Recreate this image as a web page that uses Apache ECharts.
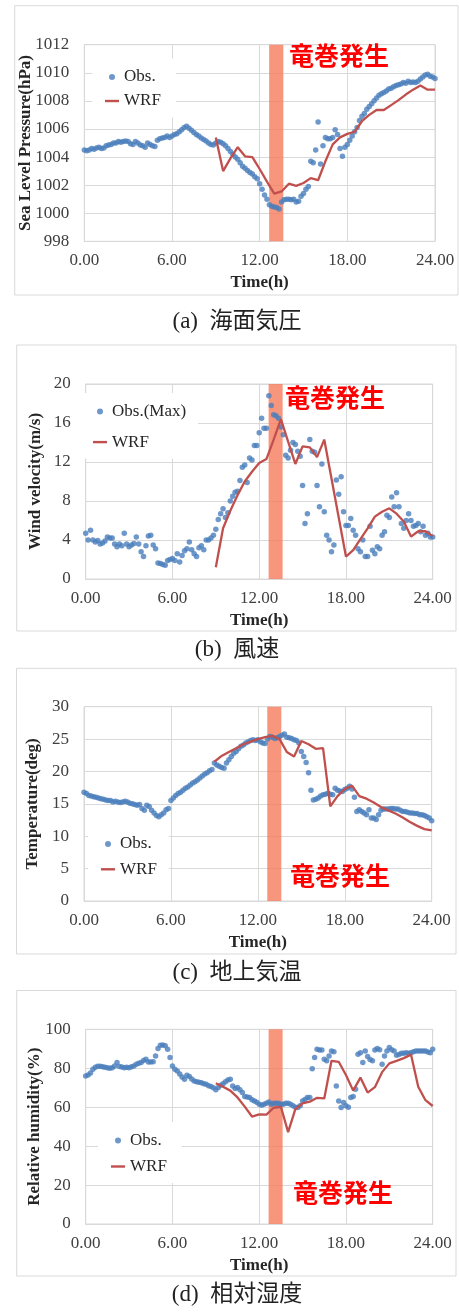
<!DOCTYPE html>
<html>
<head>
<meta charset="utf-8">
<script src="https://cdn.jsdelivr.net/npm/echarts@6/dist/echarts.min.js"></script>
<style>
  html, body { margin: 0; padding: 0; background: #ffffff; }
  #chart { width: 459px; height: 1313px; }
</style>
</head>
<body>
<div id="chart"></div>
<script>
// Observations are logged every 10 minutes from 0:00 to 24:00 (145 samples).
const OBS_STEP_MIN = 10;

// (a) sea level pressure, hPa
const pressureObs = [
  1004.5, 1004.45, 1004.5, 1004.6, 1004.55, 1004.65, 1004.7, 1004.6, 1004.65, 1004.8, 1004.85, 1004.9,
  1005.0, 1005.0, 1005.1, 1005.05, 1005.1, 1005.15, 1005.1, 1004.95, 1004.9, 1005.1, 1005.0, 1004.85,
  1004.8, 1004.7, 1005.0, 1004.9, 1004.8, 1004.75, 1005.2, 1005.3, 1005.35, 1005.4, 1005.5, 1005.4,
  1005.5, 1005.6, 1005.65, 1005.8, 1005.95, 1006.1, 1006.2, 1006.05, 1005.9, 1005.75, 1005.6, 1005.5,
  1005.35, 1005.25, 1005.15, 1005.0, 1004.9, 1004.85, 1005.0, 1005.1, 1005.05, 1004.95, 1004.8, 1004.6,
  1004.4, 1004.2, 1004.0, 1003.85, 1003.6, 1003.35, 1003.2, 1003.05, 1002.9, 1002.8, 1002.6, 1002.45,
  1002.1, 1001.7, 1001.3, 1001.0, 1000.6, 1000.5, 1000.45, 1000.4, 1000.3, 1000.8, 1000.95, 1001.0,
  1001.0, 1000.95, 1001.0, 1000.8, 1000.85, 1001.2, 1001.4, 1001.7, 1001.9, 1003.7, 1003.6, 1004.5,
  1006.5, 1003.5, 1004.8, 1005.4, 1005.3, 1005.3, 1005.4, 1005.95, 1005.6, 1004.6, 1004.05, 1004.7,
  1004.9, 1005.2, 1005.5, 1005.8, 1006.1, 1006.6, 1006.9, 1007.1, 1007.4, 1007.6, 1007.8, 1008.0,
  1008.2, 1008.4, 1008.5, 1008.6, 1008.7, 1008.85, 1008.9, 1009.0, 1009.1, 1009.15, 1009.2, 1009.3,
  1009.25, 1009.4, 1009.3, 1009.35, 1009.3, 1009.4, 1009.55, 1009.7, 1009.85, 1009.9, 1009.75, 1009.7,
  1009.6
];

// (b) maximum wind speed, m/s
const windObs = [
  4.7, 4.0, 5.0, 4.0, 3.8, 3.95, 3.6, 3.7, 3.9, 4.3, 4.2, 4.2,
  3.6, 3.3, 3.6, 3.4, 4.7, 3.6, 3.3, 3.5, 3.65, 4.3, 3.6, 2.8,
  2.3, 3.4, 4.4, 4.5, 3.5, 3.1, 1.65, 1.6, 1.5, 1.4, 1.9, 2.0,
  2.1, 1.9, 2.6, 1.75, 2.4, 2.9, 3.1, 3.8, 3.0, 2.6, 2.3, 3.2,
  3.4, 3.0, 4.0, 4.0, 4.2, 4.5, 5.1, 6.1, 6.7, 7.2, 6.3, 6.8,
  8.0, 8.5, 8.9, 9.0, 10.1, 11.45, 11.7, 9.9, 12.4, 12.2, 13.7, 13.7,
  15.0, 16.5, 15.45, 15.45, 18.8, 17.8, 16.85, 16.75, 16.5, 15.6, 14.8, 12.7,
  12.4, 13.2, 14.0, 13.8, 13.1, 12.6, 9.6, 5.7, 6.7, 14.3, 13.1, 13.0,
  9.6, 7.4, 11.8, 6.9, 4.5, 4.0, 2.8, 3.5, 10.15, 8.7, 10.5, 6.9,
  5.5, 5.5, 6.2, 5.0, 4.5, 3.1, 2.8, 4.0, 2.3, 2.3, 5.4, 2.95,
  2.6, 3.3, 3.1, 4.5, 4.85, 6.55, 6.3, 8.4, 7.4, 8.85, 7.4, 5.7,
  5.2, 6.0, 6.7, 6.0, 5.4, 5.5, 5.7, 4.85, 5.4, 4.5, 4.7, 4.3,
  4.3
];

// (c) surface air temperature, deg C
const tempObs = [
  16.8, 16.6, 16.3, 16.2, 16.1, 16.0, 15.9, 15.8, 15.7, 15.6, 15.5, 15.5,
  15.3, 15.4, 15.3, 15.2, 15.3, 15.4, 15.3, 15.1, 15.0, 14.9, 14.8, 14.9,
  14.3, 14.0, 14.8, 14.6, 14.0, 13.6, 13.2, 13.0, 13.3, 13.6, 14.1, 14.3,
  15.5, 15.9, 16.3, 16.6, 16.8, 17.1, 17.4, 17.6, 17.9, 18.2, 18.4, 18.7,
  19.0, 19.3, 19.6, 19.8, 20.1, 20.3, 21.3, 21.0, 20.8, 20.6, 20.5, 21.3,
  21.8, 22.3, 22.8, 23.1, 23.5, 23.9, 24.1, 24.4, 24.6, 24.8, 24.9, 24.8,
  24.9, 24.6, 24.4, 24.3, 25.0, 25.4, 25.3, 25.1, 25.2, 25.4, 25.6, 25.8,
  25.3, 25.2, 25.1, 24.9, 24.8, 24.4, 23.1, 22.3, 21.4, 19.8, 17.1, 15.6,
  15.7, 15.9, 16.2, 16.4, 16.5, 16.65, 16.5, 16.4, 17.4, 17.1, 17.0, 16.9,
  17.2, 17.4, 17.7, 17.3, 16.0, 13.8, 14.1, 13.8, 13.6, 13.3, 14.1, 12.8,
  12.8, 12.6, 13.3, 14.0, 14.2, 14.2, 14.2, 14.3, 14.3, 14.2, 14.2, 14.0,
  13.8, 13.8, 13.7, 13.6, 13.6, 13.5, 13.5, 13.3, 13.3, 13.2, 13.0, 12.8,
  12.4
];

// (d) relative humidity, %
const humidObs = [
  76.0, 76.5, 77.5, 79.5, 80.5, 81.0, 81.0, 80.8, 80.5, 80.3, 80.0, 80.3,
  81.2, 82.9, 80.9, 80.6, 80.3, 80.5, 80.3, 80.8, 81.2, 82.0, 82.5, 82.9,
  84.0, 84.6, 83.2, 83.2, 83.3, 86.3, 90.1, 91.8, 92.0, 91.5, 89.7, 85.5,
  81.2, 79.5, 78.6, 77.0, 75.5, 74.4, 76.4, 75.7, 74.5, 73.5, 73.0, 72.8,
  72.6, 72.0, 71.8, 71.0, 70.6, 70.0, 68.9, 70.1, 71.3, 72.0, 73.0, 74.0,
  74.4, 70.9, 69.6, 70.1, 69.0, 67.5, 65.5, 65.2, 65.0, 63.8, 63.2, 62.5,
  61.5, 61.0, 61.5, 62.0, 62.7, 61.5, 62.0, 62.0, 62.0, 61.5, 61.5, 62.0,
  62.0, 61.5, 60.7, 60.0, 59.8, 60.7, 63.2, 64.0, 65.0, 65.0, 79.8, 85.5,
  89.7, 89.4, 89.4, 84.6, 83.8, 86.3, 88.9, 88.5, 70.9, 63.2, 59.8, 62.4,
  60.7, 60.0, 65.0, 65.5, 69.2, 87.2, 88.0, 82.9, 88.9, 86.0, 84.5, 83.8,
  89.4, 90.1, 89.5, 82.0, 86.3, 88.9, 90.6, 89.5, 88.9, 86.7, 87.0, 87.7,
  87.7, 88.0, 87.7, 88.0, 88.5, 88.9, 88.9, 88.9, 88.9, 88.9, 88.4, 88.0,
  89.7
];

// WRF model output, every 30 minutes from 9:00
const wrfHours = [
  9.0, 9.5, 10.0, 10.5, 11.0, 11.5, 12.0, 12.5, 13.0, 13.5, 14.0, 14.5, 15.0, 15.5, 16.0, 16.5,
  17.0, 17.5, 18.0, 18.5, 19.0, 19.5, 20.0, 20.5, 21.0, 21.5, 22.0, 22.5, 23.0, 23.5, 24.0
];
const pressureWrf = [
  1005.4, 1003.0, 1003.9, 1004.7, 1004.05, 1004.0, 1003.15, 1002.25, 1001.4, 1001.55, 1002.1, 1001.95,
  1002.15, 1002.5, 1002.35, 1003.7, 1004.9, 1005.4, 1005.65, 1005.8, 1006.55, 1007.0, 1007.35, 1007.35,
  1007.7, 1008.05, 1008.45, 1008.8, 1009.1, 1008.8, 1008.8
];
const windWrf = [
  1.2, 5.2, 7.0, 8.6, 10.0, 11.0, 11.9, 12.3, 14.3, 16.4, 14.1, 11.8, 13.6, 13.5, 12.5, 14.3,
  10.3, 6.3, 2.3, 2.95, 4.1, 5.2, 6.4, 6.9, 7.25, 6.7, 5.9, 4.35, 4.9, 4.9, 4.4
];
const tempWrf = [
  21.5, 22.4, 23.0, 23.6, 24.2, 24.6, 25.0, 25.3, 25.5, 25.0, 23.0, 22.3, 24.7, 24.2, 23.5, 23.6,
  14.6, 16.2, 17.3, 17.8, 16.2, 15.8, 15.2, 14.5, 14.0, 13.5, 12.9, 12.2, 11.6, 11.1, 10.9
];
const humidWrf = [
  72.3, 70.5, 68.5, 65.0, 60.3, 55.2, 56.3, 56.2, 59.7, 60.2, 47.2, 59.0, 62.0, 62.8, 64.8, 64.5,
  83.8, 83.3, 76.5, 68.5, 75.2, 67.5, 70.3, 78.0, 82.5, 83.8, 85.2, 87.0, 70.5, 63.6, 60.6
];

// Tornado occurrence window (hours)
const tornadoBand = [12.65, 13.62];
const tornadoLabel = '竜巻発生';

// Axis ticks
const timeTicks = { min: 0, max: 24, interval: 6 };
const pressureTicks = { min: 998, max: 1012, interval: 2 };
const windTicks = { min: 0, max: 20, interval: 4 };
const tempTicks = { min: 0, max: 30, interval: 5 };
const humidTicks = { min: 0, max: 100, interval: 20 };

const timeTitle = 'Time(h)';
const panelTitles = ['Sea Level Pressure(hPa)', 'Wind velocity(m/s)', 'Temperature(deg)', 'Relative humidity(%)'];
const obsNames = ['Obs.', 'Obs.(Max)', 'Obs.', 'Obs.'];
const wrfName = 'WRF';
const captions = ['(a)\u2002海面気圧', '(b)\u2002風速', '(c)\u2002地上気温', '(d)\u2002相対湿度'];

// ---- styling / layout ----
const SERIF = '"Liberation Serif", "Times New Roman", serif';
const CAPTION_FONT = '"Liberation Serif", "Noto Sans CJK JP", serif';
const OBS_COLOR = '#4a7ebb';
const WRF_COLOR = '#c0504d';
const GRID_COLOR = '#d9d9d9';
const TEXT_COLOR = '#404040';
const LINE_ICON = 'path://M0,0 L14,0 L14,2.4 L0,2.4 Z';

const panels = [
  { obs: pressureObs, wrf: pressureWrf, ticks: pressureTicks,
    grid: { left: 84.3, top: 44.7, width: 350.7, height: 196.6 },
    frame: [14.7, 5.7, 443.3, 289.3], nameGap: 50,
    legend: { left: 92, top: 58.5, gap: 7, pad: [10, 15, 8, 13] },
    note: [289, 58], caption: 322 },
  { obs: windObs, wrf: windWrf, ticks: windTicks,
    grid: { left: 85.7, top: 384, width: 347, height: 195 },
    frame: [16.7, 345, 439.3, 286], nameGap: 42,
    legend: { left: 80, top: 393, gap: 13.6, pad: [10, 12, 8, 13] },
    note: [285, 400], caption: 650 },
  { obs: tempObs, wrf: tempWrf, ticks: tempTicks,
    grid: { left: 84, top: 706.7, width: 347.7, height: 194.3 },
    frame: [16.5, 668.3, 439.5, 285.7], nameGap: 42.5,
    legend: { left: 88, top: 825.5, gap: 8.3, pad: [10, 12, 8, 13] },
    note: [290, 878], caption: 973 },
  { obs: humidObs, wrf: humidWrf, ticks: humidTicks,
    grid: { left: 85.7, top: 1029.3, width: 347, height: 194.7 },
    frame: [16.7, 990.5, 439.3, 285.5], nameGap: 43,
    legend: { left: 98, top: 1122, gap: 9, pad: [10, 15, 8, 13] },
    note: [293, 1195], caption: 1295 }
];

function obsPoints(values) {
  return values.map((v, i) => [i * OBS_STEP_MIN / 60, v]);
}
function wrfPoints(values) {
  return values.map((v, i) => [wrfHours[i], v]);
}

const option = {
  animation: false,
  backgroundColor: '#ffffff',
  grid: [], xAxis: [], yAxis: [], series: [], legend: [], graphic: []
};

panels.forEach((p, i) => {
  option.grid.push(Object.assign({ show: true, borderColor: GRID_COLOR, borderWidth: 1, backgroundColor: 'transparent' }, p.grid));

  option.xAxis.push({
    type: 'value', gridIndex: i,
    min: timeTicks.min, max: timeTicks.max, interval: timeTicks.interval,
    name: timeTitle, nameLocation: 'middle', nameGap: 33, nameMoveOverlap: false,
    nameTextStyle: { fontFamily: SERIF, fontSize: 17, fontWeight: 'bold', color: '#262626' },
    axisLine: { show: true, lineStyle: { color: GRID_COLOR } },
    axisTick: { show: false },
    axisLabel: { fontFamily: SERIF, fontSize: 17, color: TEXT_COLOR, margin: 11,
                 formatter: v => v.toFixed(2) },
    splitLine: { show: true, lineStyle: { color: GRID_COLOR, width: 1 } }
  });

  option.yAxis.push({
    type: 'value', gridIndex: i,
    min: p.ticks.min, max: p.ticks.max, interval: p.ticks.interval,
    name: panelTitles[i], nameLocation: 'middle', nameGap: p.nameGap, nameRotate: 90,
    nameMoveOverlap: false,
    nameTextStyle: { fontFamily: SERIF, fontSize: 17, fontWeight: 'bold', color: '#262626' },
    axisLine: { show: true, lineStyle: { color: GRID_COLOR } },
    axisTick: { show: false },
    axisLabel: { fontFamily: SERIF, fontSize: 17, color: TEXT_COLOR, margin: 15,
                 formatter: v => String(v) },
    splitLine: { show: true, lineStyle: { color: GRID_COLOR, width: 1 } }
  });

  option.series.push({
    type: 'scatter', name: obsNames[i], xAxisIndex: i, yAxisIndex: i,
    data: obsPoints(p.obs), symbol: 'circle', symbolSize: 5.5,
    itemStyle: { color: OBS_COLOR }, z: 2
  });
  option.series.push({
    type: 'line', name: wrfName, xAxisIndex: i, yAxisIndex: i,
    data: wrfPoints(p.wrf), symbol: 'none', showSymbol: false,
    lineStyle: { color: WRF_COLOR, width: 2.3 }, itemStyle: { color: WRF_COLOR }, z: 3
  });
  // tornado window, drawn over the data
  option.series.push({
    type: 'line', name: 'tornado-' + i, xAxisIndex: i, yAxisIndex: i, data: [], z: 5, silent: true,
    markArea: {
      silent: true,
      itemStyle: { color: 'rgba(246,120,89,0.78)' },
      data: [[{ xAxis: tornadoBand[0] }, { xAxis: tornadoBand[1] }]]
    }
  });

  option.legend.push({
    orient: 'vertical', left: p.legend.left, top: p.legend.top,
    padding: p.legend.pad, backgroundColor: '#ffffff', itemGap: p.legend.gap,
    itemWidth: 14, itemHeight: 6, selectedMode: false,
    textStyle: { fontFamily: SERIF, fontSize: 17, color: '#262626', lineHeight: 17 },
    data: [
      { name: obsNames[i], icon: 'circle', itemStyle: { color: OBS_COLOR } },
      { name: wrfName, icon: LINE_ICON, itemStyle: { color: WRF_COLOR } }
    ]
  });

  option.graphic.push({
    type: 'rect', silent: true, z: -1,
    shape: { x: p.frame[0], y: p.frame[1], width: p.frame[2], height: p.frame[3] },
    style: { fill: 'none', stroke: GRID_COLOR, lineWidth: 1 }
  });
  option.graphic.push({
    type: 'text', silent: true, z: 10, left: p.note[0], top: p.note[1] - 15,
    style: { text: tornadoLabel, fill: '#ff0000', font: 'bold 25px "Noto Sans CJK JP"' }
  });
  option.graphic.push({
    type: 'text', silent: true, z: 10, x: 237, y: p.caption,
    style: { text: captions[i], fill: '#222222', font: '23px ' + CAPTION_FONT,
             textAlign: 'center', textVerticalAlign: 'middle' }
  });
});

const chart = echarts.init(document.getElementById('chart'), null, { renderer: 'canvas' });
chart.setOption(option);
</script>
</body>
</html>
